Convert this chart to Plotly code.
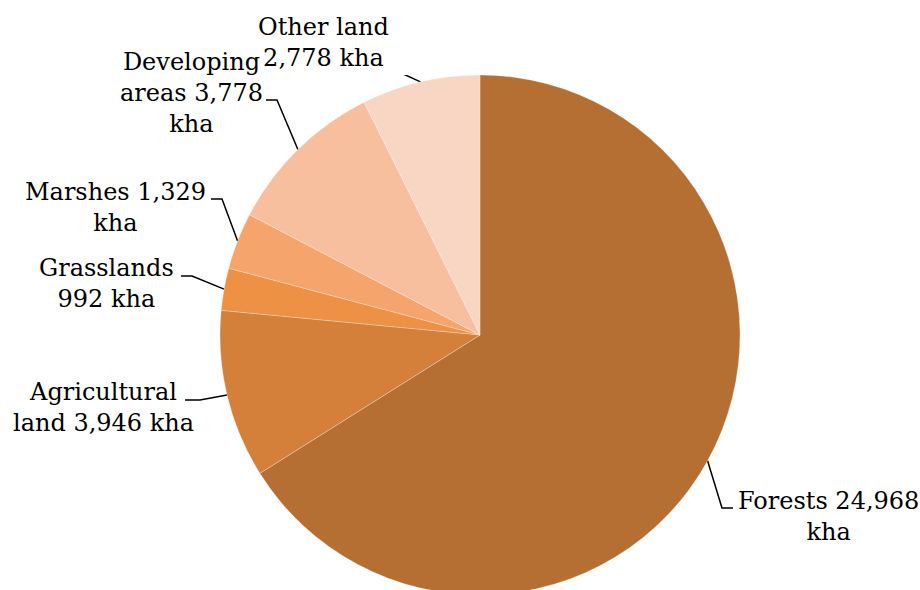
import math
import textwrap
import plotly.graph_objects as go

# Land use breakdown (thousand hectares)
categories = ["Forests", "Agricultural land", "Grasslands", "Marshes",
              "Developing areas", "Other land"]
values = [24968, 3946, 992, 1329, 3778, 2778]
colors = ["#b56f33", "#d47f3a", "#ed9145", "#f5a56c", "#f8bf9f", "#f9d5c4"]

# Figure frame (px)
W, H = 920, 595
M_L, M_R, M_T, M_B = 40, 0, 75, 0
x0, x1 = M_L, W - M_R
y0, y1 = M_T, H - M_B
cx, cy = (x0 + x1) / 2, (y0 + y1) / 2
R = min(x1 - x0, y1 - y0) / 2


def to_paper(px, py):
    return (px - x0) / (x1 - x0), (y1 - py) / (y1 - y0)


# Label placement: wrap width, elbow point, end of horizontal tick, label centre
label_layout = [
    dict(wrap=14, elbow=(722, 508), end=(733, 508), pos=(828, 516)),
    dict(wrap=14, elbow=(200, 400), end=(185, 400), pos=(103, 407)),
    dict(wrap=10, elbow=(192, 276), end=(181, 276), pos=(106, 283)),
    dict(wrap=13, elbow=(222, 199), end=(211, 199), pos=(115, 207)),
    dict(wrap=11, elbow=(277, 100), end=(266, 100), pos=(191, 93)),
    dict(wrap=10, elbow=(401, 73), end=(389, 73), pos=(323, 42)),
]

fig = go.Figure()
fig.add_trace(go.Pie(
    labels=categories, values=values, sort=False, direction="clockwise",
    rotation=0, textinfo="none", hole=0,
    marker=dict(colors=colors, line=dict(color="rgba(255,255,255,0.5)", width=0.5)),
    showlegend=False,
    domain=dict(x=[0, 1], y=[0, 1]),
))

# Connector lines from each slice's outer edge midpoint
total = sum(values)
lx, ly = [], []
annotations = []
cum = 0.0
for name, v, lay in zip(categories, values, label_layout):
    mid = (cum + v / 2) / total * 2 * math.pi
    cum += v
    ex = cx + R * math.sin(mid)
    ey = cy - R * math.cos(mid)
    lx += [ex, lay["elbow"][0], lay["end"][0], None]
    ly += [ey, lay["elbow"][1], lay["end"][1], None]
    text = "<br>".join(textwrap.wrap(f"{name} {v:,} kha", lay["wrap"]))
    ax, ay = to_paper(*lay["pos"])
    annotations.append(dict(
        x=ax, y=ay, xref="paper", yref="paper", text=text,
        showarrow=False, xanchor="center", yanchor="middle", align="center",
        font=dict(family="DejaVu Serif", size=24, color="#000000"),
    ))

fig.add_trace(go.Scatter(
    x=lx, y=ly, mode="lines", line=dict(color="#000000", width=1.5),
    hoverinfo="skip", showlegend=False, cliponaxis=False,
))

fig.update_layout(
    width=W, height=H,
    margin=dict(l=M_L, r=M_R, t=M_T, b=M_B, pad=0),
    paper_bgcolor="white", plot_bgcolor="rgba(0,0,0,0)",
    template="none",
    showlegend=False,
    xaxis=dict(visible=False, range=[x0, x1], fixedrange=True),
    yaxis=dict(visible=False, range=[y1, y0], fixedrange=True),
    annotations=annotations,
)

fig.write_html(
    "out.html",
    post_script="document.body.style.margin='0';document.body.style.overflow='hidden';",
)
